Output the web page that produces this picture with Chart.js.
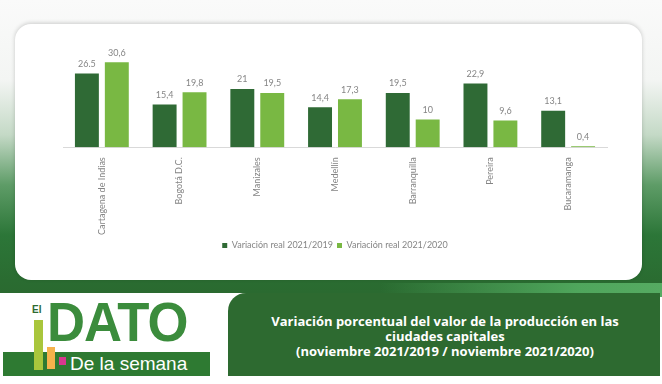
<!DOCTYPE html>
<html>
<head>
<meta charset="utf-8">
<script src="https://cdn.jsdelivr.net/npm/chart.js@4"></script>
<style>
    html, body { margin: 0; padding: 0; }
    body {
        width: 662px; height: 384px; position: relative; overflow: hidden;
        background: #ffffff;
        font-family: Lato, "Open Sans", sans-serif;
    }
    #bg {
        position: absolute; left: 0; top: 0; width: 662px; height: 293px;
        background: linear-gradient(to bottom, #fafafa 0px, #f3f5f3 80px, #c4d9c6 135px, #5e9c67 185px, #2c7638 235px, #2a6c31 280px, #2a6a30 293px);
    }
    #stripe {
        position: absolute; left: 380px; top: 283px; width: 282px; height: 14px;
        background: linear-gradient(to right, rgba(77,163,91,0), #4fa65c 70%, #56ab62);
    }
    #card {
        position: absolute; left: 15px; top: 24px; width: 627px; height: 256px;
        background: #ffffff; border-radius: 16px;
        box-shadow: 0 -1px 4px rgba(0,0,0,0.18);
    }
    #chartBox { position: absolute; left: 0; top: 0; width: 627px; height: 256px; }
    #banner {
        position: absolute; left: 228px; top: 293px; width: 432px; height: 83px;
        background: #2d6a30; border-top-left-radius: 18px;
    }
    #title {
        position: absolute; left: 228px; top: 314px; width: 434px;
        text-align: center; color: #ffffff; font-weight: bold;
        font-size: 13px; line-height: 15px; font-family: "Open Sans", Lato, sans-serif;
    }
    .logo { position: absolute; }
    #dato {
        left: 47px; top: 292px; color: #3b8c3c; font-weight: bold;
        font-family: "Liberation Sans", Arial, sans-serif; font-size: 56px; line-height: 60px;
        transform: scaleX(0.94); transform-origin: left top; letter-spacing: -1px;
    }
    #el { left: 32px; top: 304px; color: #2d6a30; font-weight: bold; font-size: 10px; font-family: "Liberation Sans", sans-serif; }
    #semana {
        left: 3px; top: 352px; width: 207px; height: 24px; background: #2e7a32;
        color: #ffffff; font-size: 19px; line-height: 24px; font-family: "Liberation Sans", Arial, sans-serif;
        box-sizing: border-box; padding-left: 67px;
    }
    #olive { left: 34px; top: 320px; width: 9px; height: 50px; background: #a9c63c; }
    #orange { left: 47px; top: 347px; width: 8px; height: 22px; background: #f5b24c; }
    #pink { left: 59px; top: 357px; width: 7px; height: 8px; background: #d8378f; }
</style>
</head>
<body>
<div id="bg"></div>
<div id="stripe"></div>
<div id="card"><div id="chartBox"><canvas id="chart"></canvas></div></div>
<div id="banner"></div>
<div id="title">Variación porcentual del valor de la producción en las<br>ciudades capitales<br>(noviembre 2021/2019 / noviembre 2021/2020)</div>
<div class="logo" id="semana">De la semana</div>
<div class="logo" id="dato">DATO</div>
<div class="logo" id="el">El</div>
<div class="logo" id="olive"></div>
<div class="logo" id="orange"></div>
<div class="logo" id="pink"></div>

<script>
const cities = ['Cartagena de Indias', 'Bogotá D.C.', 'Manizales', 'Medellín', 'Barranquilla', 'Pereira', 'Bucaramanga'];
const var2019 = [26.5, 15.4, 21, 14.4, 19.5, 22.9, 13.1];
const var2020 = [30.6, 19.8, 19.5, 17.3, 10, 9.6, 0.4];
const text2019 = ['26.5', '15,4', '21', '14,4', '19,5', '22,9', '13,1'];
const text2020 = ['30,6', '19,8', '19,5', '17,3', '10', '9,6', '0,4'];
const seriesNames = ['Variación real 2021/2019', 'Variación real 2021/2020'];

const DARK = '#2f6a35';
const LIGHT = '#79b843';
const GREY = '#858585';

// labels above each bar
const barLabels = {
    id: 'barLabels',
    afterDatasetsDraw(chart) {
        const ctx = chart.ctx;
        const texts = [text2019, text2020];
        ctx.save();
        ctx.font = '9px Lato, sans-serif';
        ctx.fillStyle = GREY;
        ctx.textAlign = 'center';
        ctx.textBaseline = 'bottom';
        chart.data.datasets.forEach((ds, i) => {
            chart.getDatasetMeta(i).data.forEach((bar, j) => {
                ctx.fillText(texts[i][j], bar.x, bar.y - 5);
            });
        });
        ctx.restore();
    }
};

new Chart(document.getElementById('chart'), {
    type: 'bar',
    data: {
        labels: cities,
        datasets: [{
            label: seriesNames[0],
            data: var2019,
            backgroundColor: DARK
        }, {
            label: seriesNames[1],
            data: var2020,
            backgroundColor: LIGHT
        }]
    },
    options: {
        responsive: true,
        maintainAspectRatio: false,
        animation: false,
        categoryPercentage: 0.77,
        barPercentage: 0.8,
        layout: {
            padding: { left: 48, right: 35, top: 26, bottom: 20 }
        },
        plugins: {
            legend: {
                position: 'bottom',
                labels: {
                    boxWidth: 5,
                    boxHeight: 5,
                    color: GREY,
                    font: { size: 9, family: 'Lato, sans-serif' },
                    padding: 4
                }
            },
            tooltip: { enabled: false }
        },
        scales: {
            x: {
                grid: { display: false },
                border: { display: true, color: '#d9d9d9', width: 1 },
                ticks: {
                    color: GREY,
                    font: { size: 9, family: 'Lato, sans-serif' },
                    minRotation: 90,
                    maxRotation: 90,
                    padding: 2
                }
            },
            y: {
                display: false,
                min: 0,
                max: 35
            }
        }
    },
    plugins: [barLabels]
});
</script>
</body>
</html>
